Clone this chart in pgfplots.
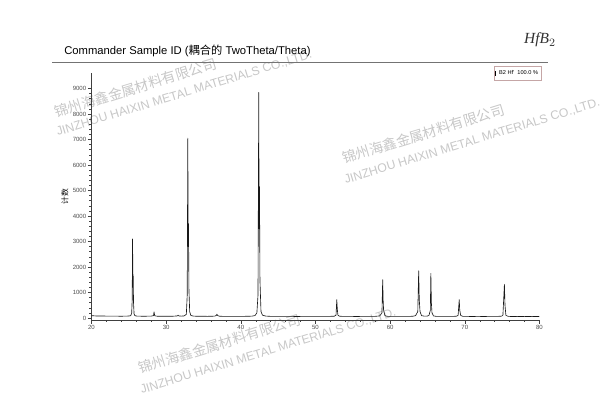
\documentclass[border=0pt]{standalone}
\usepackage{fontspec}
\setmainfont{Liberation Sans}
\newfontfamily\cjk{Noto Sans CJK SC}
\newfontfamily\hand{Liberation Serif}
\usepackage{pgfplots}
\pgfplotsset{compat=1.18}

% scan measured 600x410 px, 1 px = 0.025 cm
\pgfplotstableread{
tt cnt
20.00 90
20.50 80
21.00 75
21.50 78
22.00 72
22.50 70
23.00 74
23.50 70
24.00 68
24.50 72
25.00 75
25.25 90
25.38 180
25.45 700
25.50 3100
25.55 1200
25.58 1700
25.63 600
25.70 160
25.80 95
26.00 75
26.50 70
27.00 68
27.50 70
28.00 72
28.30 90
28.38 240
28.46 90
28.70 70
29.00 68
29.50 66
30.00 68
30.50 65
31.00 70
31.50 80
31.60 110
31.70 80
32.00 72
32.40 80
32.70 140
32.82 900
32.90 7050
32.95 2800
32.99 3700
33.05 1100
33.15 250
33.30 100
33.60 75
34.00 68
34.50 65
35.00 66
35.50 64
36.00 66
36.50 72
36.72 100
36.80 150
36.88 100
37.10 70
37.50 64
38.00 62
38.50 64
39.00 62
39.50 63
40.00 62
40.50 64
41.00 66
41.50 72
41.90 95
42.15 200
42.30 900
42.40 8850
42.45 3500
42.50 5150
42.56 1500
42.70 250
42.90 110
43.30 75
44.00 62
44.50 60
45.00 62
45.50 60
46.00 60
46.50 62
47.00 60
47.50 58
48.00 60
48.50 60
49.00 62
49.50 60
50.00 60
50.50 62
51.00 60
51.50 62
52.00 64
52.50 68
52.75 110
52.85 720
52.92 350
53.00 110
53.20 70
53.50 64
54.00 60
54.50 62
55.00 60
55.50 58
56.00 60
56.50 62
57.00 60
57.50 62
58.00 64
58.60 80
58.90 200
59.00 1500
59.06 700
59.12 300
59.30 90
59.60 65
60.00 60
60.50 60
61.00 62
61.50 60
62.00 60
62.50 62
63.00 66
63.40 90
63.70 250
63.82 1850
63.90 700
64.00 250
64.20 90
64.60 70
65.00 75
65.20 100
65.38 300
65.45 1750
65.52 600
65.60 200
65.80 80
66.20 62
66.50 60
67.00 60
67.50 62
68.00 60
68.50 62
68.90 70
69.10 100
69.25 720
69.32 300
69.45 100
69.70 65
70.00 60
70.50 60
71.00 58
71.50 60
72.00 60
72.50 58
73.00 60
73.50 60
74.00 62
74.50 64
74.90 70
75.10 100
75.30 1320
75.38 500
75.50 100
75.80 65
76.00 60
76.50 58
77.00 60
77.50 58
78.00 60
78.50 58
79.00 60
79.50 58
80.00 60
}\xrd

\begin{document}
\begin{tikzpicture}
\path[use as bounding box] (0,0) rectangle (15,10.25);

% watermarks
\begin{scope}[black!22]
\node[anchor=west, rotate=17, font=\cjk\fontsize{10}{10}\selectfont] at (1.25,7.4) {锦州海鑫金属材料有限公司};
\node[anchor=west, rotate=17, font=\fontsize{8.7}{9}\selectfont] at (1.3,6.9) {JINZHOU HAIXIN METAL MATERIALS CO.,LTD.};
\node[anchor=west, rotate=17, font=\cjk\fontsize{10}{10}\selectfont] at (8.45,6.25) {锦州海鑫金属材料有限公司};
\node[anchor=west, rotate=17, font=\fontsize{8.7}{9}\selectfont] at (8.5,5.7) {JINZHOU HAIXIN METAL MATERIALS CO.,LTD.};
\node[anchor=west, rotate=17, font=\cjk\fontsize{10}{10}\selectfont] at (3.35,1.0) {锦州海鑫金属材料有限公司};
\node[anchor=west, rotate=17, font=\fontsize{8.7}{9}\selectfont] at (3.4,0.45) {JINZHOU HAIXIN METAL MATERIALS CO.,LTD.};
\end{scope}

% header
\node[anchor=base west, font=\fontsize{8}{9}\selectfont, inner sep=0pt] at (1.6,8.88)
  {Commander Sample ID ({\cjk 耦合的} TwoTheta/Theta)};
\draw[black!55, line width=0.7pt] (1.3,8.7) -- (13.7,8.7);
\node[font=\hand\itshape\fontsize{11}{11}\selectfont, black!80] at (13.5,9.25) {HfB$_2$};

\begin{axis}[
  at={(2.2875cm,2.25cm)}, anchor=south west,
  scale only axis, width=11.2cm, height=6.17cm,
  xmin=20, xmax=80, ymin=-80, ymax=9600,
  axis x line*=bottom, axis y line*=left,
  axis line style={-, black!75, line width=0.4pt},
  xtick={20,30,...,80}, ytick={0,1000,...,9000},
  minor x tick num=4, minor y tick num=4,
  tick align=outside,
  major tick length=0.09cm, minor tick length=0.05cm,
  tick style={black!75, line width=0.35pt},
  ticklabel style={font=\fontsize{4.3}{5}\selectfont, text=black!70},
  xticklabel style={inner sep=1pt},
  yticklabel style={inner sep=1pt},
  /pgf/number format/1000 sep={},
  /pgf/number format/assume math mode=true,
  ylabel={计数},
  ylabel style={font=\cjk\fontsize{5.5}{6}\selectfont, at={(axis description cs:-0.059,0.5)}, anchor=center},
  legend style={at={(1.005,1)}, anchor=east, draw=red!35!black!35, line width=0.3pt,
    font=\fontsize{4}{5}\selectfont, inner sep=0.5pt, row sep=0pt,
    legend cell align=left},
  legend image code/.code={\draw[black, line width=1.1pt] (0.05cm,-0.06cm) -- (0.05cm,0.06cm);},
]
\addplot[black!90, line width=0.45pt, line join=round] table[x=tt, y=cnt] {\xrd};
\addlegendentry{B2 Hf\textquotesingle\ \ 100.0 \%}
\end{axis}
\end{tikzpicture}
\end{document}
